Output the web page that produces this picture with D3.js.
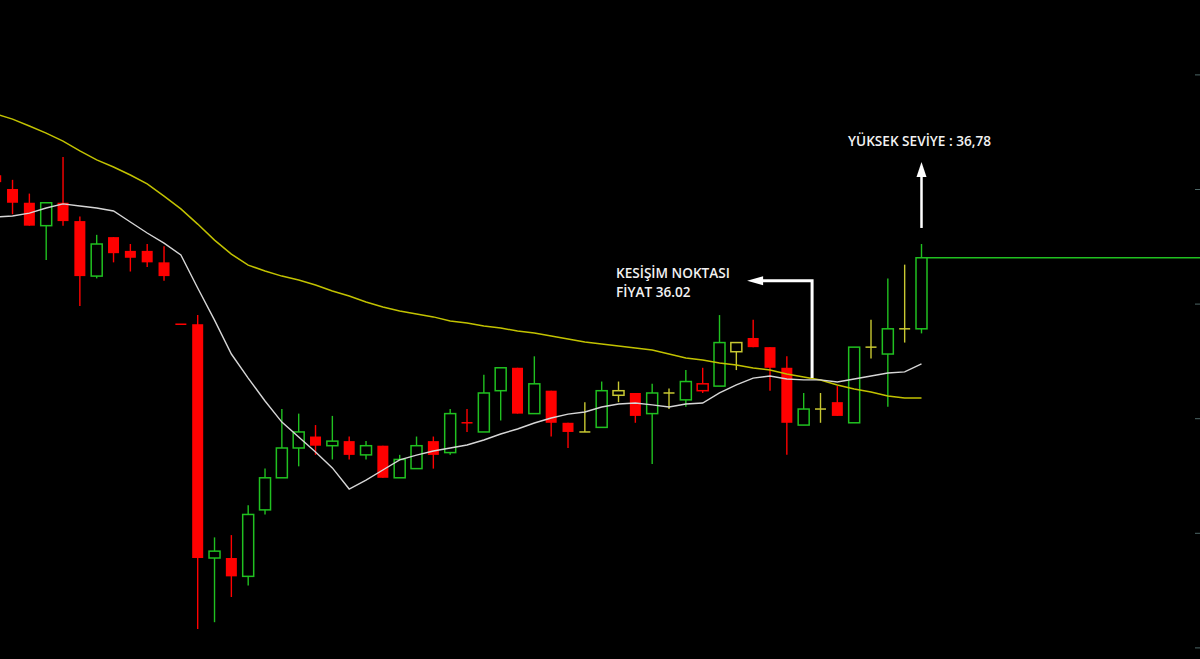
<!DOCTYPE html>
<html>
<head>
<meta charset="utf-8">
<script src="https://cdn.jsdelivr.net/npm/d3@7"></script>
<style>
  html, body { margin: 0; padding: 0; background: #000; overflow: hidden; }
  svg { display: block; }
  .note { font-family: "Open Sans", sans-serif; font-size: 13.6px; font-weight: 600; fill: #f2f2f2; }
</style>
</head>
<body>
<script>
// one candle per bar, oldest on the left
var opens  = [37.06,37.00,36.94,36.84,36.94,36.86,36.62,36.79,36.73,36.73,36.68,36.41,36.41,35.39,35.39,35.31,
              35.60,35.74,35.87,35.92,35.88,35.90,35.84,35.88,35.74,35.78,35.90,35.85,35.98,35.94,36.12,36.22,
              36.02,36.12,35.98,35.94,35.96,36.10,36.11,36.02,36.11,36.08,36.12,36.14,36.29,36.35,36.31,36.22,
              35.97,36.04,36.07,35.98,36.31,36.28,36.39,36.39];
var highs  = [37.08,37.04,36.98,36.94,37.14,36.88,36.80,36.79,36.76,36.76,36.75,36.41,36.45,35.48,35.49,35.62,
              35.78,36.04,36.02,35.97,36.01,35.92,35.90,35.88,35.84,35.92,35.92,36.04,36.04,36.19,36.22,36.22,
              36.27,36.12,35.98,36.07,36.16,36.16,36.11,36.15,36.13,36.21,36.22,36.45,36.33,36.43,36.31,36.27,
              36.11,36.11,36.14,36.31,36.43,36.61,36.67,36.76];
var lows   = [37.02,36.89,36.84,36.69,36.84,36.49,36.61,36.68,36.64,36.66,36.60,36.41,35.08,35.11,35.22,35.27,
              35.58,35.74,35.79,35.84,35.82,35.82,35.82,35.74,35.74,35.78,35.78,35.84,35.94,35.94,35.99,36.02,
              36.02,35.92,35.87,35.94,35.96,36.07,35.98,35.80,36.04,36.05,36.11,36.14,36.21,36.31,36.12,35.84,
              35.97,35.98,36.01,35.98,36.26,36.05,36.33,36.37];
var closes = [37.03,36.94,36.84,36.94,36.86,36.62,36.76,36.72,36.70,36.68,36.62,36.41,35.39,35.42,35.31,35.58,
              35.74,35.87,35.94,35.88,35.90,35.84,35.88,35.74,35.82,35.88,35.84,36.02,35.98,36.11,36.22,36.02,
              36.15,35.98,35.94,35.94,36.12,36.12,36.01,36.11,36.11,36.16,36.15,36.33,36.33,36.31,36.22,35.98,
              36.04,36.04,36.01,36.31,36.31,36.39,36.39,36.70];

// moving averages (fast = grey, slow = yellow)
var maFast = [36.878,36.882,36.895,36.917,36.935,36.926,36.917,36.904,36.856,36.808,36.764,36.712,36.568,36.428,
              36.280,36.175,36.075,35.983,35.918,35.853,35.783,35.691,35.730,35.774,35.818,35.839,35.857,35.870,
              35.883,35.905,35.931,35.953,35.979,36.001,36.018,36.027,36.049,36.062,36.066,36.058,36.049,36.062,
              36.066,36.110,36.145,36.175,36.184,36.171,36.167,36.167,36.158,36.171,36.184,36.197,36.202,36.237];
var maSlow = [37.327,37.305,37.275,37.244,37.209,37.166,37.127,37.096,37.061,37.022,36.969,36.913,36.847,36.777,
              36.716,36.668,36.642,36.620,36.603,36.581,36.555,36.533,36.507,36.485,36.468,36.455,36.442,36.424,
              36.415,36.402,36.394,36.380,36.372,36.359,36.346,36.332,36.324,36.315,36.306,36.298,36.280,36.263,
              36.254,36.241,36.232,36.219,36.210,36.193,36.180,36.167,36.145,36.127,36.114,36.097,36.088,36.088];

var priceTicks = [35, 35.5, 36, 36.5, 37, 37.5];

var W = 1200, H = 659;
var green = "#20c020", red = "#ff0000", yellow = "#c8c832";

var svg = d3.select("body").append("svg")
  .attr("width", W).attr("height", H)
  .style("background", "#000");

var x = d3.scaleLinear().domain([0, closes.length - 1]).range([-4.3, 921.5]);
var y = d3.scaleLinear().domain([35, 37]).range([647.4, 189]);
var bodyW = 11;

var bars = closes.map(function(c, i) {
  var prev = i > 0 ? closes[i - 1] : opens[i];
  var col = c > prev ? green : (c < prev ? red : yellow);
  return { i: i, o: opens[i], h: highs[i], l: lows[i], c: c, col: col };
});

// price axis ticks on the right edge (labels fall outside the picture)
var axis = svg.append("g")
  .attr("transform", "translate(" + (W - 5) + ",0)")
  .call(d3.axisRight(y).tickValues(priceTicks).tickSize(5).tickFormat(""));
axis.select(".domain").remove();
axis.selectAll("line").attr("stroke", "#4d6666");

// last close line
var last = bars[bars.length - 1];
svg.append("line")
  .attr("x1", x(last.i) + bodyW / 2).attr("x2", W)
  .attr("y1", y(last.c)).attr("y2", y(last.c))
  .attr("stroke", green).attr("stroke-width", 1.5);

var candle = svg.append("g").selectAll("g").data(bars).join("g");

candle.append("line")
  .attr("x1", function(d) { return x(d.i); })
  .attr("x2", function(d) { return x(d.i); })
  .attr("y1", function(d) { return y(d.h); })
  .attr("y2", function(d) { return y(d.l); })
  .attr("stroke", function(d) { return d.col; })
  .attr("stroke-width", 1.4);

candle.filter(function(d) { return d.o !== d.c; }).append("rect")
  .attr("x", function(d) { return x(d.i) - bodyW / 2; })
  .attr("width", bodyW)
  .attr("y", function(d) { return y(Math.max(d.o, d.c)); })
  .attr("height", function(d) { return Math.abs(y(d.o) - y(d.c)); })
  .attr("fill", function(d) { return d.c > d.o ? "#000" : d.col; })
  .attr("stroke", function(d) { return d.col; })
  .attr("stroke-width", function(d) { return d.c > d.o ? 1.5 : 0; });

candle.filter(function(d) { return d.o === d.c; }).append("line")
  .attr("x1", function(d) { return x(d.i) - bodyW / 2; })
  .attr("x2", function(d) { return x(d.i) + bodyW / 2; })
  .attr("y1", function(d) { return y(d.c); })
  .attr("y2", function(d) { return y(d.c); })
  .attr("stroke", function(d) { return d.col; })
  .attr("stroke-width", 1.5);

var line = d3.line()
  .x(function(d, i) { return x(i); })
  .y(function(d) { return y(d); });

svg.append("path").datum(maSlow)
  .attr("d", line).attr("fill", "none")
  .attr("stroke", "#c2c200").attr("stroke-width", 1.5);

svg.append("path").datum(maFast)
  .attr("d", line).attr("fill", "none")
  .attr("stroke", "#d6d6d6").attr("stroke-width", 1.4);

// annotation: crossing point
var crossX = x(48.5), crossY = y(36.175), turnY = y(36.60), tipX = x(44.64);
svg.append("path")
  .attr("d", "M" + crossX + "," + crossY + "V" + turnY + "H" + (tipX + 14))
  .attr("fill", "none").attr("stroke", "#fff").attr("stroke-width", 3);
svg.append("path")
  .attr("d", "M" + tipX + "," + turnY + "L" + (tipX + 16) + "," + (turnY - 4.5) + "L" + (tipX + 16) + "," + (turnY + 4.5) + "Z")
  .attr("fill", "#fff");

svg.append("text").attr("class", "note")
  .attr("x", 616).attr("y", 278).text("KESİŞİM NOKTASI");
svg.append("text").attr("class", "note")
  .attr("x", 616).attr("y", 297).text("FİYAT 36.02");

// annotation: high level
var hx = x(last.i), hBottom = y(36.83), hTip = y(37.118);
svg.append("line")
  .attr("x1", hx).attr("x2", hx)
  .attr("y1", hBottom).attr("y2", hTip + 12)
  .attr("stroke", "#fff").attr("stroke-width", 2.5);
svg.append("path")
  .attr("d", "M" + hx + "," + hTip + "L" + (hx - 5) + "," + (hTip + 15) + "L" + (hx + 5) + "," + (hTip + 15) + "Z")
  .attr("fill", "#fff");

svg.append("text").attr("class", "note")
  .attr("x", hx - 2).attr("y", 146)
  .attr("text-anchor", "middle")
  .text("YÜKSEK SEVİYE : 36,78");
</script>
</body>
</html>
